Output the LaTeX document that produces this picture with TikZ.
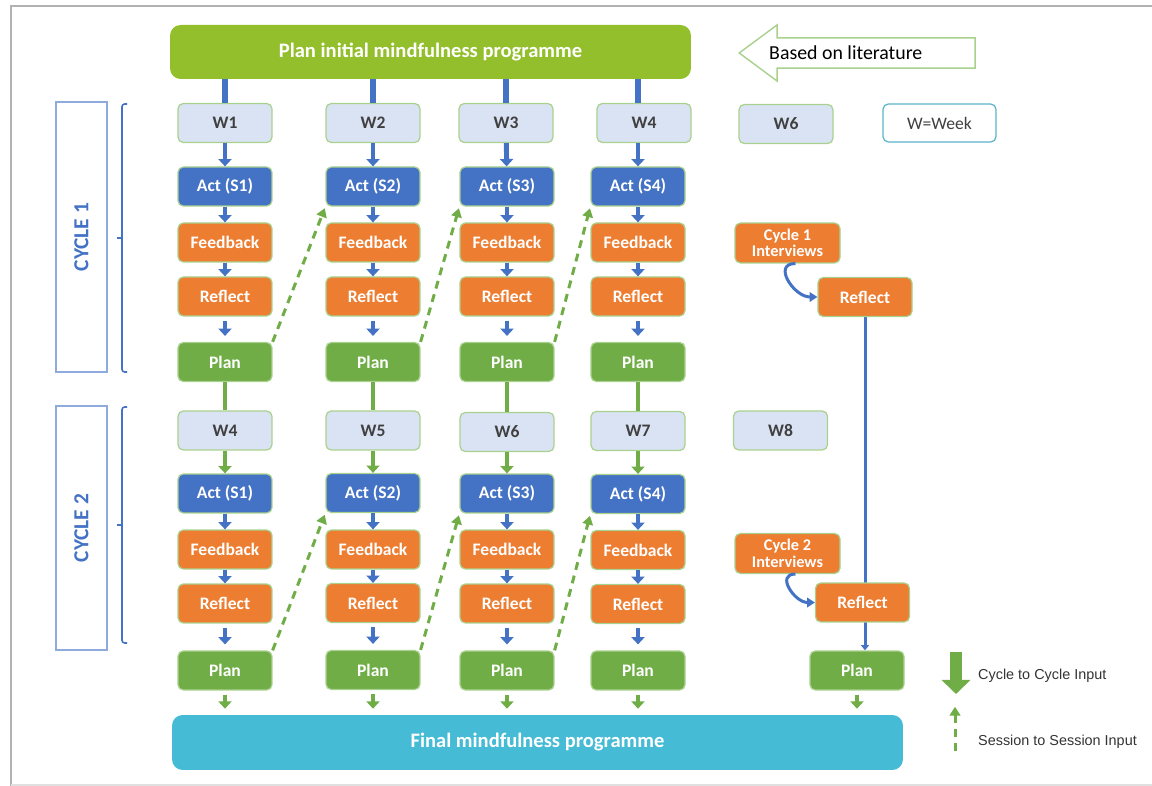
\documentclass[tikz,border=0pt]{standalone}
\usepackage{fontspec}
\setmainfont{Carlito}
\newfontfamily\keyfont{Liberation Sans}
\usetikzlibrary{arrows.meta, positioning, shapes.arrows, backgrounds}

\definecolor{actblue}{HTML}{4472C4}
\definecolor{steporange}{HTML}{ED7D31}
\definecolor{plangreen}{HTML}{70AD47}
\definecolor{weekfill}{HTML}{DAE3F3}
\definecolor{boxedge}{HTML}{A9D18E}
\definecolor{initgreen}{HTML}{94BF2D}
\definecolor{finalblue}{HTML}{45BBD6}
\definecolor{weektext}{HTML}{404040}
\definecolor{keyteal}{HTML}{5BB3C9}
\definecolor{cycleedge}{HTML}{8FAADC}

\begin{document}
\begin{tikzpicture}[
    x=0.02cm, y=-0.02cm,
    box/.style={rectangle, draw=boxedge, line width=0.7pt, rounded corners=3pt, minimum width=1.88cm, minimum height=0.78cm, align=center, text=white, font=\bfseries\fontsize{10}{10.5}\selectfont},
    week/.style={box, fill=weekfill, text=weektext},
    act/.style={box, fill=actblue},
    stepbox/.style={box, fill=steporange},
    plan/.style={box, fill=plangreen},
    interview/.style={stepbox, minimum width=2.1cm, font=\bfseries\fontsize{9.3}{9.4}\selectfont},
    bigbox/.style={rectangle, rounded corners=6pt, text=white, font=\bfseries\fontsize{11.7}{12}\selectfont},
    cyclebox/.style={rectangle, draw=cycleedge, line width=0.8pt, rotate=90, minimum height=1.02cm, text=actblue, font=\bfseries\fontsize{12.2}{13}\selectfont},
    bracket/.style={draw=actblue, line width=0.9pt, rounded corners=1.5pt},
    blueline/.style={draw=actblue, line width=3.4pt},
    greenline/.style={draw=plangreen, line width=2.8pt},
    bluearrow/.style={draw=actblue, line width=2.8pt, -{Triangle[length=4.2pt, width=7.5pt]}},
    greenarrow/.style={bluearrow, draw=plangreen},
    floating/.style={shorten <=2.3pt, shorten >=3.4pt},
    sessionarrow/.style={draw=plangreen, line width=1.7pt, dash pattern=on 4.5pt off 3.4pt, shorten >=1pt, -{Triangle[length=5pt, width=6pt]}},
    curvearrow/.style={draw=actblue, line width=1.7pt, -{Triangle[length=4.5pt, width=5.5pt]}},
    thinarrow/.style={draw=actblue, line width=1.7pt, -{Triangle[length=3pt, width=4.5pt]}},
    keytext/.style={right, text=black!80, font=\keyfont\fontsize{8.2}{9}\selectfont}
  ]
    \useasboundingbox (0,0) rectangle (1152,786);
    \draw[black!30, line width=1.2pt] (1152,6) -- (11,6) -- (11,786);
    \draw[black!12, line width=0.8pt] (11,785) -- (1152,785);

    % top and bottom
    \node[bigbox, fill=initgreen, minimum width=10.42cm, minimum height=1.08cm] (init) at (430.5,52) {Plan initial mindfulness programme};
    \node[bigbox, fill=finalblue, minimum width=14.62cm, minimum height=1.1cm] (final) at (537.5,742.5) {Final mindfulness programme};

    \node[single arrow, draw=boxedge, fill=white, line width=0.8pt, shape border rotate=180, inner sep=0pt, inner ysep=8.2pt, minimum height=4.72cm, minimum width=1.1cm, single arrow head extend=7.4pt, single arrow tip angle=73, anchor=tip] (lit) at (738,53) {};
    \node[right, font=\fontsize{11.3}{12}\selectfont] (littext) at (763,53) {Based on literature};
    \node[box, draw=keyteal, fill=white, text=weektext, font=\fontsize{10}{11}\selectfont, minimum width=2.26cm, minimum height=0.76cm] (key) at (939.5,123) {W=Week};

    % cycle labels
    \node[cyclebox, minimum width=5.4cm] (cyc1) at (81.5,237) {CYCLE 1};
    \node[cyclebox, minimum width=4.88cm] (cyc2) at (81.5,528) {CYCLE 2};
    \draw[bracket] (127,104) -- (122,104) -- (122,372) -- (127,372);
    \draw[bracket] (122,238) -- (117,238);
    \draw[bracket] (127,407) -- (122,407) -- (122,643) -- (127,643);
    \draw[bracket] (122,525) -- (117,525);

    % cycle 1
    \node[week] (w11) at (225,123) {W1};
    \node[week] (w12) at (373,123) {W2};
    \node[week] (w13) at (506,123) {W3};
    \node[week] (w14) at (644,123) {W4};
    \node[week] (w15) at (786,124) {W6};

    \node[act] (act11) at (225,186.5) {Act (S1)};
    \node[act] (act12) at (373,186.5) {Act (S2)};
    \node[act] (act13) at (507,186.5) {Act (S3)};
    \node[act] (act14) at (638,186.5) {Act (S4)};

    \node[stepbox] (fb11) at (225,242.5) {Feedback};
    \node[stepbox] (fb12) at (373,242.5) {Feedback};
    \node[stepbox] (fb13) at (507,242.5) {Feedback};
    \node[stepbox] (fb14) at (638,242.5) {Feedback};
    \node[interview] (int1) at (787.5,243) {Cycle 1\\Interviews};

    \node[stepbox] (ref11) at (225,296.5) {Reflect};
    \node[stepbox] (ref12) at (373,296.5) {Reflect};
    \node[stepbox] (ref13) at (507,296.5) {Reflect};
    \node[stepbox] (ref14) at (638,296.5) {Reflect};
    \node[stepbox] (ref15) at (865,297) {Reflect};

    \node[plan] (plan11) at (225,362) {Plan};
    \node[plan] (plan12) at (373,362) {Plan};
    \node[plan] (plan13) at (507,362) {Plan};
    \node[plan] (plan14) at (638,362) {Plan};

    % cycle 2
    \node[week] (w21) at (225,430.5) {W4};
    \node[week] (w22) at (373,430.5) {W5};
    \node[week] (w23) at (507,432) {W6};
    \node[week] (w24) at (638,431) {W7};
    \node[week] (w25) at (780.5,430.5) {W8};

    \node[act] (act21) at (225,493.5) {Act (S1)};
    \node[act] (act22) at (373,493) {Act (S2)};
    \node[act] (act23) at (507,493.5) {Act (S3)};
    \node[act] (act24) at (638,494) {Act (S4)};

    \node[stepbox] (fb21) at (225,549.5) {Feedback};
    \node[stepbox] (fb22) at (373,549.5) {Feedback};
    \node[stepbox] (fb23) at (507,549.5) {Feedback};
    \node[stepbox] (fb24) at (638,550) {Feedback};
    \node[interview] (int2) at (787.5,553.5) {Cycle 2\\Interviews};

    \node[stepbox] (ref21) at (225,603.5) {Reflect};
    \node[stepbox] (ref22) at (373,603) {Reflect};
    \node[stepbox] (ref23) at (507,603.5) {Reflect};
    \node[stepbox] (ref24) at (638,604) {Reflect};
    \node[stepbox] (ref25) at (862.5,602.5) {Reflect};

    \node[plan] (plan21) at (225,670.5) {Plan};
    \node[plan] (plan22) at (373,670) {Plan};
    \node[plan] (plan23) at (507,670.5) {Plan};
    \node[plan] (plan24) at (638,670.5) {Plan};
    \node[plan] (plan25) at (857,670.5) {Plan};

    % cycle to cycle input
    \draw[blueline] (init.south -| w11) -- (w11);
    \draw[blueline] (init.south -| w12) -- (w12);
    \draw[blueline] (init.south -| w13) -- (w13);
    \draw[blueline] (init.south -| act14) -- (act14 |- w14.north);
    \draw[greenline] (plan11) -- (w21);
    \draw[greenline] (plan12) -- (w22);
    \draw[greenline] (plan13) -- (w23);
    \draw[greenline] (plan14) -- (w24);

    \draw[bluearrow] (w11) -- (act11);
    \draw[bluearrow] (w12) -- (act12);
    \draw[bluearrow] (w13) -- (act13);
    \draw[bluearrow] (act14 |- w14.south) -- (act14);
    \draw[greenarrow] (w21) -- (act21);
    \draw[greenarrow] (w22) -- (act22);
    \draw[greenarrow] (w23) -- (act23);
    \draw[greenarrow] (w24) -- (act24);

    % inside each session
    \draw[bluearrow] (act11) -- (fb11);
    \draw[bluearrow] (act12) -- (fb12);
    \draw[bluearrow] (act13) -- (fb13);
    \draw[bluearrow] (act14) -- (fb14);
    \draw[bluearrow] (fb11) -- (ref11);
    \draw[bluearrow] (fb12) -- (ref12);
    \draw[bluearrow] (fb13) -- (ref13);
    \draw[bluearrow] (fb14) -- (ref14);
    \draw[bluearrow, floating] (ref11) -- (plan11);
    \draw[bluearrow, floating] (ref12) -- (plan12);
    \draw[bluearrow, floating] (ref13) -- (plan13);
    \draw[bluearrow, floating] (ref14) -- (plan14);

    \draw[bluearrow] (act21) -- (fb21);
    \draw[bluearrow] (act22) -- (fb22);
    \draw[bluearrow] (act23) -- (fb23);
    \draw[bluearrow] (act24) -- (fb24);
    \draw[bluearrow] (fb21) -- (ref21);
    \draw[bluearrow] (fb22) -- (ref22);
    \draw[bluearrow] (fb23) -- (ref23);
    \draw[bluearrow] (fb24) -- (ref24);
    \draw[bluearrow, floating] (ref21) -- (plan21);
    \draw[bluearrow, floating] (ref22) -- (plan22);
    \draw[bluearrow, floating] (ref23) -- (plan23);
    \draw[bluearrow, floating] (ref24) -- (plan24);

    \draw[greenarrow, floating] (plan21) -- (final.north -| plan21);
    \draw[greenarrow, floating] (plan22) -- (final.north -| plan22);
    \draw[greenarrow, floating] (plan23) -- (final.north -| plan23);
    \draw[greenarrow, floating] (plan24) -- (final.north -| plan24);
    \draw[greenarrow, floating] (plan25) -- (final.north -| plan25);

    % session to session input
    \draw[sessionarrow] (plan11.north east) -- (act12.south west);
    \draw[sessionarrow] (plan12.north east) -- (act13.south west);
    \draw[sessionarrow] (plan13.north east) -- (act14.south west);
    \draw[sessionarrow] (plan21.north east) -- (act22.south west);
    \draw[sessionarrow] (plan22.north east) -- (act23.south west);
    \draw[sessionarrow] (plan23.north east) -- (act24.south west);

    % interviews
    \draw[curvearrow] ([xshift=4.5pt]int1.south) to[out=180, in=180, looseness=1.5] (ref15.west);
    \draw[curvearrow] ([xshift=4.5pt]int2.south) to[out=180, in=180, looseness=1.5] (ref25.west);
    \begin{scope}[on background layer]
      \draw[thinarrow] (ref15) -- (ref15 |- plan25.north);
    \end{scope}

    % legend
    \coordinate (k1) at (956,652);
    \coordinate (k2) at (956,694);
    \draw[draw=plangreen, line width=6.8pt, -{Triangle[length=8pt, width=16pt]}] (k1) -- (k2);
    \node[keytext] (keycycle) at (972,676) {Cycle to Cycle Input};
    \coordinate (k3) at (955,751);
    \coordinate (k4) at (955,705);
    \draw[sessionarrow] (k3) -- (k4);
    \node[keytext] (keysession) at (972,742) {Session to Session Input};
  \end{tikzpicture}
\end{document}
